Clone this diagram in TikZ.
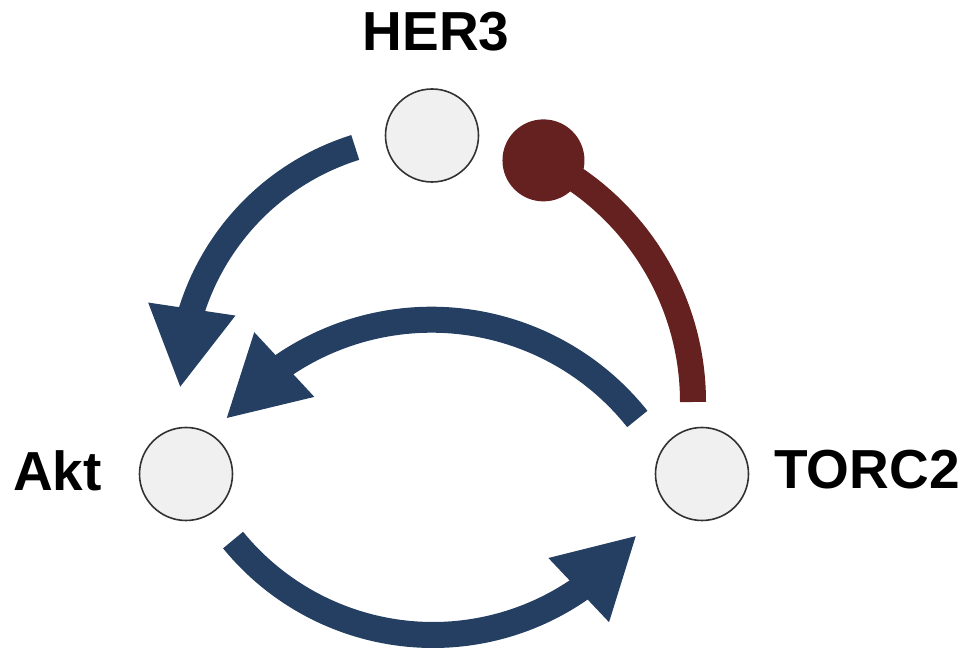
\documentclass[tikz,border=0pt]{standalone}
\usepackage{fontspec}
\setmainfont{Liberation Sans}
\usetikzlibrary{arrows.meta,bending}
\definecolor{navy}{RGB}{36,63,97}
\definecolor{maroon}{RGB}{101,33,31}
\definecolor{nodefill}{RGB}{240,240,240}
\definecolor{nodeline}{RGB}{50,50,50}
\tikzset{
  species/.style={circle, draw=nodeline, line width=1.6pt, fill=nodefill, minimum size=93pt, inner sep=0pt},
  lbl/.style={font=\fontsize{55}{60}\selectfont\bfseries, inner sep=0pt},
  act/.style={draw=navy, line width=26pt, -{Triangle[length=80pt,width=82pt,flex]}, navy},
  inh/.style={draw=maroon, line width=26pt},
  inhdot/.style={fill=maroon}
}
\begin{document}
\begin{tikzpicture}[x=1pt,y=1pt]
\path[use as bounding box] (0,0) rectangle (967,664);
% nodes
\node[species] (her3) at (432,528.5) {};
\node[species] (akt) at (186,190) {};
\node[species] (torc2) at (702,190) {};
\node[lbl] (her3l) at (436,632) {HER3};
\node[lbl] (aktl) at (57.5,193) {Akt};
\node[lbl] (torc2l) at (867,194) {TORC2};
% arc centres
\coordinate (c1) at (430,278);
\coordinate (c2) at (431.5,81.3);
\coordinate (c3) at (433,287);
\coordinate (c4) at (423,262);
% HER3 -> Akt
\draw[act] ([shift={(107.4:250)}]c1) arc[start angle=107.4, end angle=180.5, radius=250];
% TORC2 -> Akt
\draw[act] ([shift={(38.5:263)}]c2) arc[start angle=38.5, end angle=141.5, radius=263];
% Akt -> TORC2
\draw[act] ([shift={(219.2:258)}]c3) arc[start angle=219.2, end angle=322.2, radius=258];
% TORC2 --| HER3
\coordinate (inhend) at ([shift={(63.5:270)}]c4);
\draw[inh] ([shift={(0:270)}]c4) arc[start angle=0, end angle=63.5, radius=270];
\fill[inhdot] (inhend) circle[radius=41];
\end{tikzpicture}
\end{document}
